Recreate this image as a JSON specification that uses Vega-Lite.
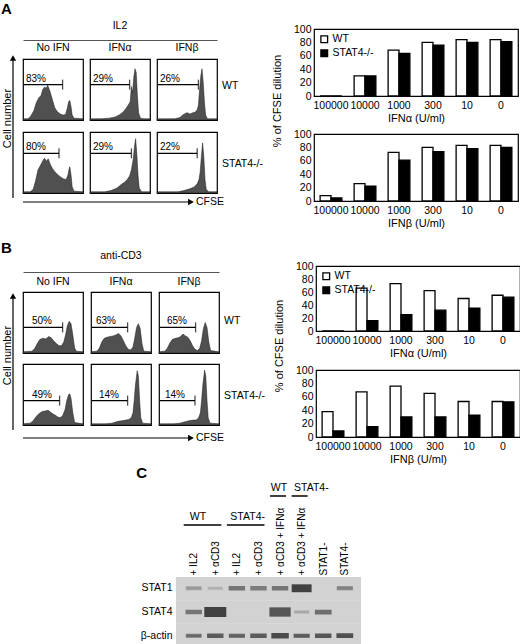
{
  "$schema": "https://vega.github.io/schema/vega-lite/v6.json",
  "padding": {"left": 1, "top": 2, "right": 0, "bottom": 0},
  "config": {
    "font": "Liberation Sans",
    "view": {"stroke": "black", "strokeWidth": 1.2},
    "axis": {"labelColor": "black", "titleColor": "black", "labelFontSize": 10.5, "titleFontSize": 11, "titleFontWeight": "normal"},
    "legend": {"labelColor": "black", "labelFontSize": 10.5},
    "title": {"color": "black"},
    "text": {"color": "black"}
  },
  "datasets": {
    "hist": [
      {"s": "IL2", "g": "WT", "t": "No IFN", "gate": 66, "gy": 58, "pct": "83%", "c": [0,8,12,18,22,26,30,33,36,39,41,44,47,50,53,57,62,67,71,74,76,78,80,82,85,100], "n": [2,2,5,15,28,36,40,50,54,52,57,50,40,30,20,14,10,8,9,20,30,32,22,8,3,2]},
      {"s": "IL2", "g": "WT", "t": "IFNα", "gate": 66, "gy": 58, "pct": "29%", "c": [0,20,32,42,50,56,60,64,67,69,71,73,75,77,79,81,84,90,100], "n": [2,2,3,5,9,14,19,25,30,55,45,70,84,78,40,12,3,2,2]},
      {"s": "IL2", "g": "WT", "t": "IFNβ", "gate": 69, "gy": 58, "pct": "26%", "c": [0,30,38,44,50,55,60,64,67,69,71,73,75,77,79,81,84,100], "n": [2,2,4,9,12,10,12,13,17,24,50,72,84,62,30,8,2,2]},
      {"s": "IL2", "g": "STAT4-/-", "t": "No IFN", "gate": 60, "gy": 65, "pct": "80%", "c": [0,12,17,21,25,29,33,36,39,42,45,49,53,58,63,68,72,75,77,78,80,82,85,100], "n": [2,2,6,20,38,45,53,57,52,56,48,40,35,30,26,23,22,30,40,43,30,10,3,2]},
      {"s": "IL2", "g": "STAT4-/-", "t": "IFNα", "gate": 69, "gy": 65, "pct": "29%", "c": [0,25,35,45,52,58,62,66,69,72,74,76,78,80,82,86,100], "n": [2,2,4,8,14,18,22,28,38,55,75,89,65,30,8,2,2]},
      {"s": "IL2", "g": "STAT4-/-", "t": "IFNβ", "gate": 67, "gy": 65, "pct": "22%", "c": [0,35,45,55,62,67,70,72,74,76,78,80,82,86,100], "n": [2,2,4,7,10,15,22,35,60,82,60,22,6,2,2]},
      {"s": "anti-CD3", "g": "WT", "t": "No IFN", "gate": 66, "gy": 42, "pct": "50%", "c": [0,15,20,24,28,33,38,43,47,51,56,60,64,68,71,74,77,80,83,86,89,100], "n": [2,3,8,16,22,24,23,27,25,20,15,12,12,18,30,45,52,48,30,8,3,2]},
      {"s": "anti-CD3", "g": "WT", "t": "IFNα", "gate": 61, "gy": 42, "pct": "63%", "c": [0,10,14,18,22,27,32,37,42,46,50,54,58,62,66,70,73,76,79,82,85,88,100], "n": [2,3,8,18,24,26,27,28,30,32,28,20,12,6,5,10,25,42,48,40,15,3,2]},
      {"s": "anti-CD3", "g": "WT", "t": "IFNβ", "gate": 61, "gy": 42, "pct": "65%", "c": [0,10,14,18,22,27,32,36,40,44,48,52,56,60,64,68,71,74,77,80,83,86,100], "n": [2,3,8,16,22,24,25,27,31,28,26,20,12,6,4,8,20,40,50,42,18,4,2]},
      {"s": "anti-CD3", "g": "STAT4-/-", "t": "No IFN", "gate": 61, "gy": 40, "pct": "49%", "c": [0,12,17,22,27,32,37,42,46,50,54,58,62,66,70,73,76,78,80,83,86,100], "n": [2,3,7,14,19,22,23,24,21,18,16,13,12,15,25,40,50,51,44,20,4,2]},
      {"s": "anti-CD3", "g": "STAT4-/-", "t": "IFNα", "gate": 61, "gy": 40, "pct": "14%", "c": [0,25,35,45,52,58,63,67,70,72,74,77,79,81,83,86,100], "n": [2,2,3,6,7,8,9,12,20,40,65,89,80,40,12,3,2]},
      {"s": "anti-CD3", "g": "STAT4-/-", "t": "IFNβ", "gate": 60, "gy": 40, "pct": "14%", "c": [0,25,35,42,50,57,62,66,69,71,73,76,78,80,82,85,100], "n": [2,2,3,5,7,8,8,12,20,40,65,90,80,40,12,3,2]}
    ],
    "bars": [
      {"s": "IL2", "f": "IFNα", "d": "100000", "g": "WT", "v": 0},
      {"s": "IL2", "f": "IFNα", "d": "100000", "g": "STAT4-/-", "v": 0},
      {"s": "IL2", "f": "IFNα", "d": "10000", "g": "WT", "v": 30},
      {"s": "IL2", "f": "IFNα", "d": "10000", "g": "STAT4-/-", "v": 30},
      {"s": "IL2", "f": "IFNα", "d": "1000", "g": "WT", "v": 68.5},
      {"s": "IL2", "f": "IFNα", "d": "1000", "g": "STAT4-/-", "v": 63.5},
      {"s": "IL2", "f": "IFNα", "d": "300", "g": "WT", "v": 80},
      {"s": "IL2", "f": "IFNα", "d": "300", "g": "STAT4-/-", "v": 76},
      {"s": "IL2", "f": "IFNα", "d": "10", "g": "WT", "v": 84},
      {"s": "IL2", "f": "IFNα", "d": "10", "g": "STAT4-/-", "v": 80},
      {"s": "IL2", "f": "IFNα", "d": "0", "g": "WT", "v": 84},
      {"s": "IL2", "f": "IFNα", "d": "0", "g": "STAT4-/-", "v": 81},
      {"s": "IL2", "f": "IFNβ", "d": "100000", "g": "WT", "v": 8},
      {"s": "IL2", "f": "IFNβ", "d": "100000", "g": "STAT4-/-", "v": 4.5},
      {"s": "IL2", "f": "IFNβ", "d": "10000", "g": "WT", "v": 26},
      {"s": "IL2", "f": "IFNβ", "d": "10000", "g": "STAT4-/-", "v": 22},
      {"s": "IL2", "f": "IFNβ", "d": "1000", "g": "WT", "v": 72.5},
      {"s": "IL2", "f": "IFNβ", "d": "1000", "g": "STAT4-/-", "v": 61},
      {"s": "IL2", "f": "IFNβ", "d": "300", "g": "WT", "v": 80},
      {"s": "IL2", "f": "IFNβ", "d": "300", "g": "STAT4-/-", "v": 73.5},
      {"s": "IL2", "f": "IFNβ", "d": "10", "g": "WT", "v": 83},
      {"s": "IL2", "f": "IFNβ", "d": "10", "g": "STAT4-/-", "v": 78},
      {"s": "IL2", "f": "IFNβ", "d": "0", "g": "WT", "v": 83},
      {"s": "IL2", "f": "IFNβ", "d": "0", "g": "STAT4-/-", "v": 80},
      {"s": "anti-CD3", "f": "IFNα", "d": "100000", "g": "WT", "v": 0},
      {"s": "anti-CD3", "f": "IFNα", "d": "100000", "g": "STAT4-/-", "v": 0},
      {"s": "anti-CD3", "f": "IFNα", "d": "10000", "g": "WT", "v": 66},
      {"s": "anti-CD3", "f": "IFNα", "d": "10000", "g": "STAT4-/-", "v": 16},
      {"s": "anti-CD3", "f": "IFNα", "d": "1000", "g": "WT", "v": 73},
      {"s": "anti-CD3", "f": "IFNα", "d": "1000", "g": "STAT4-/-", "v": 25},
      {"s": "anti-CD3", "f": "IFNα", "d": "300", "g": "WT", "v": 62},
      {"s": "anti-CD3", "f": "IFNα", "d": "300", "g": "STAT4-/-", "v": 32},
      {"s": "anti-CD3", "f": "IFNα", "d": "10", "g": "WT", "v": 50},
      {"s": "anti-CD3", "f": "IFNα", "d": "10", "g": "STAT4-/-", "v": 35},
      {"s": "anti-CD3", "f": "IFNα", "d": "0", "g": "WT", "v": 55},
      {"s": "anti-CD3", "f": "IFNα", "d": "0", "g": "STAT4-/-", "v": 52},
      {"s": "anti-CD3", "f": "IFNβ", "d": "100000", "g": "WT", "v": 38},
      {"s": "anti-CD3", "f": "IFNβ", "d": "100000", "g": "STAT4-/-", "v": 9},
      {"s": "anti-CD3", "f": "IFNβ", "d": "10000", "g": "WT", "v": 67.5},
      {"s": "anti-CD3", "f": "IFNβ", "d": "10000", "g": "STAT4-/-", "v": 15.5},
      {"s": "anti-CD3", "f": "IFNβ", "d": "1000", "g": "WT", "v": 76},
      {"s": "anti-CD3", "f": "IFNβ", "d": "1000", "g": "STAT4-/-", "v": 30},
      {"s": "anti-CD3", "f": "IFNβ", "d": "300", "g": "WT", "v": 65},
      {"s": "anti-CD3", "f": "IFNβ", "d": "300", "g": "STAT4-/-", "v": 30},
      {"s": "anti-CD3", "f": "IFNβ", "d": "10", "g": "WT", "v": 53},
      {"s": "anti-CD3", "f": "IFNβ", "d": "10", "g": "STAT4-/-", "v": 32.5},
      {"s": "anti-CD3", "f": "IFNβ", "d": "0", "g": "WT", "v": 53},
      {"s": "anti-CD3", "f": "IFNβ", "d": "0", "g": "STAT4-/-", "v": 52.5}
    ],
    "blot": [
      {"lane": 1, "row": "STAT1", "i": 0.35, "w": 0.1},
      {"lane": 2, "row": "STAT1", "i": 0.18, "w": 0},
      {"lane": 3, "row": "STAT1", "i": 0.6, "w": 0.2},
      {"lane": 4, "row": "STAT1", "i": 0.55, "w": 0.2},
      {"lane": 5, "row": "STAT1", "i": 0.6, "w": 0.2},
      {"lane": 6, "row": "STAT1", "i": 1, "w": 0.7},
      {"lane": 7, "row": "STAT1", "i": 0, "w": 0},
      {"lane": 8, "row": "STAT1", "i": 0.5, "w": 0.15},
      {"lane": 1, "row": "STAT4", "i": 0.6, "w": 0.2},
      {"lane": 2, "row": "STAT4", "i": 1, "w": 1},
      {"lane": 3, "row": "STAT4", "i": 0, "w": 0},
      {"lane": 4, "row": "STAT4", "i": 0, "w": 0},
      {"lane": 5, "row": "STAT4", "i": 0.85, "w": 0.9},
      {"lane": 6, "row": "STAT4", "i": 0.25, "w": 0},
      {"lane": 7, "row": "STAT4", "i": 0.65, "w": 0.25},
      {"lane": 8, "row": "STAT4", "i": 0, "w": 0},
      {"lane": 1, "row": "β-actin", "i": 0.7, "w": 0.1},
      {"lane": 2, "row": "β-actin", "i": 0.8, "w": 0.2},
      {"lane": 3, "row": "β-actin", "i": 0.75, "w": 0.15},
      {"lane": 4, "row": "β-actin", "i": 0.8, "w": 0.2},
      {"lane": 5, "row": "β-actin", "i": 0.95, "w": 0.35},
      {"lane": 6, "row": "β-actin", "i": 0.8, "w": 0.15},
      {"lane": 7, "row": "β-actin", "i": 0.85, "w": 0.2},
      {"lane": 8, "row": "β-actin", "i": 0.9, "w": 0.25}
    ],
    "groups": [
      {"label": "WT", "from": 1, "to": 2, "mid": 1.2, "tier": 1},
      {"label": "STAT4-", "from": 3, "to": 4, "mid": 3.5, "tier": 1},
      {"label": "WT", "from": 5, "to": 5, "mid": 4.95, "tier": 2},
      {"label": "STAT4-", "from": 6, "to": 6, "mid": 6.45, "tier": 2}
    ],
    "arrow": [{"from": 0, "to": 1, "label": "CFSE"}],
    "note": [{"t": "% of CFSE dilution"}]
  },
  "vconcat": [
    {
      "title": {"text": "A", "anchor": "start", "fontSize": 15, "fontWeight": "bold", "offset": -5},
      "hconcat": [
        {
          "hconcat": [
            {
              "width": 3, "height": 190, "view": {"stroke": null},
              "data": {"name": "arrow"},
              "layer": [
                {"mark": {"type": "rule", "color": "black", "strokeWidth": 1.2},
                 "encoding": {
                   "x": {"field": "from", "type": "quantitative", "scale": {"domain": [0, 1]}, "axis": null},
                   "y": {"field": "from", "type": "quantitative", "scale": {"domain": [-0.029, 1.329], "nice": false, "zero": false},
                         "axis": {"title": "Cell number", "labels": false, "ticks": false, "domain": false, "grid": false, "titlePadding": 1, "titleY": 106}},
                   "y2": {"field": "to"}}},
                {"mark": {"type": "point", "shape": "triangle-up", "filled": true, "color": "black", "size": 40, "opacity": 1},
                 "encoding": {"x": {"field": "from", "type": "quantitative"}, "y": {"field": "to", "type": "quantitative"}}}
              ]
            },
            {
              "vconcat": [
                {
                  "width": 194, "height": 28, "view": {"stroke": null},
                  "data": {"values": [{"label": "IL2"}]},
                  "mark": {"type": "text", "fontSize": 10.5},
                  "encoding": {
                    "x": {"field": "label", "type": "nominal", "scale": {"paddingInner": 0, "paddingOuter": 0},
                          "axis": {"title": null, "labels": false, "ticks": false, "domain": true, "domainColor": "#555", "domainWidth": 1}},
                    "text": {"field": "label", "type": "nominal"}}
                },
                {
                  "vconcat": [
                    {
                      "hconcat": [
                        {
                          "width": 60, "height": 61, "data": {"name": "hist"},
                          "transform": [{"filter": "datum.s === 'IL2' && datum.g === 'WT' && datum.t === 'No IFN'"}],
                          "title": {"text": "No IFN", "anchor": "middle", "fontSize": 10.5, "fontWeight": "normal", "offset": 6},
                          "layer": [
                            {"transform": [{"flatten": ["c", "n"]}], "mark": {"type": "area", "fill": "#505050", "stroke": "#1a1a1a", "strokeWidth": 0.5},
                             "encoding": {"x": {"field": "c", "type": "quantitative", "scale": {"domain": [0, 100], "nice": false}, "axis": null}, "y": {"field": "n", "type": "quantitative", "scale": {"domain": [0, 100], "nice": false}, "axis": null}}},
                            {"mark": {"type": "rule", "color": "black", "strokeWidth": 1.3}, "encoding": {"x": {"field": "gate", "type": "quantitative"}, "x2": {"datum": 1}, "y": {"field": "gy", "type": "quantitative"}}},
                            {"mark": {"type": "tick", "orient": "vertical", "color": "black", "thickness": 1.3, "size": 10}, "encoding": {"x": {"field": "gate", "type": "quantitative"}, "y": {"field": "gy", "type": "quantitative"}}},
                            {"mark": {"type": "text", "align": "left", "baseline": "bottom", "dy": -1, "dx": 3, "fontSize": 10}, "encoding": {"x": {"datum": 0, "type": "quantitative"}, "y": {"field": "gy", "type": "quantitative"}, "text": {"field": "pct", "type": "nominal"}}}
                          ]
                        },
                        {
                          "width": 60, "height": 61, "data": {"name": "hist"},
                          "transform": [{"filter": "datum.s === 'IL2' && datum.g === 'WT' && datum.t === 'IFNα'"}],
                          "title": {"text": "IFNα", "anchor": "middle", "fontSize": 10.5, "fontWeight": "normal", "offset": 6},
                          "layer": [
                            {"transform": [{"flatten": ["c", "n"]}], "mark": {"type": "area", "fill": "#505050", "stroke": "#1a1a1a", "strokeWidth": 0.5},
                             "encoding": {"x": {"field": "c", "type": "quantitative", "scale": {"domain": [0, 100], "nice": false}, "axis": null}, "y": {"field": "n", "type": "quantitative", "scale": {"domain": [0, 100], "nice": false}, "axis": null}}},
                            {"mark": {"type": "rule", "color": "black", "strokeWidth": 1.3}, "encoding": {"x": {"field": "gate", "type": "quantitative"}, "x2": {"datum": 1}, "y": {"field": "gy", "type": "quantitative"}}},
                            {"mark": {"type": "tick", "orient": "vertical", "color": "black", "thickness": 1.3, "size": 10}, "encoding": {"x": {"field": "gate", "type": "quantitative"}, "y": {"field": "gy", "type": "quantitative"}}},
                            {"mark": {"type": "text", "align": "left", "baseline": "bottom", "dy": -1, "dx": 3, "fontSize": 10}, "encoding": {"x": {"datum": 0, "type": "quantitative"}, "y": {"field": "gy", "type": "quantitative"}, "text": {"field": "pct", "type": "nominal"}}}
                          ]
                        },
                        {
                          "width": 60, "height": 61, "data": {"name": "hist"},
                          "transform": [{"filter": "datum.s === 'IL2' && datum.g === 'WT' && datum.t === 'IFNβ'"}],
                          "title": {"text": "IFNβ", "anchor": "middle", "fontSize": 10.5, "fontWeight": "normal", "offset": 6},
                          "layer": [
                            {"transform": [{"flatten": ["c", "n"]}], "mark": {"type": "area", "fill": "#505050", "stroke": "#1a1a1a", "strokeWidth": 0.5},
                             "encoding": {"x": {"field": "c", "type": "quantitative", "scale": {"domain": [0, 100], "nice": false}, "axis": null}, "y": {"field": "n", "type": "quantitative", "scale": {"domain": [0, 100], "nice": false}, "axis": null}}},
                            {"mark": {"type": "rule", "color": "black", "strokeWidth": 1.3}, "encoding": {"x": {"field": "gate", "type": "quantitative"}, "x2": {"datum": 1}, "y": {"field": "gy", "type": "quantitative"}}},
                            {"mark": {"type": "tick", "orient": "vertical", "color": "black", "thickness": 1.3, "size": 10}, "encoding": {"x": {"field": "gate", "type": "quantitative"}, "y": {"field": "gy", "type": "quantitative"}}},
                            {"mark": {"type": "text", "align": "left", "baseline": "bottom", "dy": -1, "dx": 3, "fontSize": 10}, "encoding": {"x": {"datum": 0, "type": "quantitative"}, "y": {"field": "gy", "type": "quantitative"}, "text": {"field": "pct", "type": "nominal"}}},
                            {"mark": {"type": "text", "align": "left", "baseline": "middle", "dx": 5, "fontSize": 10.5}, "encoding": {"x": {"datum": 100, "type": "quantitative"}, "y": {"datum": 55, "type": "quantitative"}, "text": {"field": "g", "type": "nominal"}}}
                          ]
                        }
                      ],
                      "spacing": 3
                    },
                    {
                      "hconcat": [
                        {
                          "width": 60, "height": 61, "data": {"name": "hist"},
                          "transform": [{"filter": "datum.s === 'IL2' && datum.g === 'STAT4-/-' && datum.t === 'No IFN'"}],
                          "layer": [
                            {"transform": [{"flatten": ["c", "n"]}], "mark": {"type": "area", "fill": "#505050", "stroke": "#1a1a1a", "strokeWidth": 0.5},
                             "encoding": {"x": {"field": "c", "type": "quantitative", "scale": {"domain": [0, 100], "nice": false}, "axis": null}, "y": {"field": "n", "type": "quantitative", "scale": {"domain": [0, 100], "nice": false}, "axis": null}}},
                            {"mark": {"type": "rule", "color": "black", "strokeWidth": 1.3}, "encoding": {"x": {"field": "gate", "type": "quantitative"}, "x2": {"datum": 1}, "y": {"field": "gy", "type": "quantitative"}}},
                            {"mark": {"type": "tick", "orient": "vertical", "color": "black", "thickness": 1.3, "size": 10}, "encoding": {"x": {"field": "gate", "type": "quantitative"}, "y": {"field": "gy", "type": "quantitative"}}},
                            {"mark": {"type": "text", "align": "left", "baseline": "bottom", "dy": -1, "dx": 3, "fontSize": 10}, "encoding": {"x": {"datum": 0, "type": "quantitative"}, "y": {"field": "gy", "type": "quantitative"}, "text": {"field": "pct", "type": "nominal"}}}
                          ]
                        },
                        {
                          "width": 60, "height": 61, "data": {"name": "hist"},
                          "transform": [{"filter": "datum.s === 'IL2' && datum.g === 'STAT4-/-' && datum.t === 'IFNα'"}],
                          "layer": [
                            {"transform": [{"flatten": ["c", "n"]}], "mark": {"type": "area", "fill": "#505050", "stroke": "#1a1a1a", "strokeWidth": 0.5},
                             "encoding": {"x": {"field": "c", "type": "quantitative", "scale": {"domain": [0, 100], "nice": false}, "axis": null}, "y": {"field": "n", "type": "quantitative", "scale": {"domain": [0, 100], "nice": false}, "axis": null}}},
                            {"mark": {"type": "rule", "color": "black", "strokeWidth": 1.3}, "encoding": {"x": {"field": "gate", "type": "quantitative"}, "x2": {"datum": 1}, "y": {"field": "gy", "type": "quantitative"}}},
                            {"mark": {"type": "tick", "orient": "vertical", "color": "black", "thickness": 1.3, "size": 10}, "encoding": {"x": {"field": "gate", "type": "quantitative"}, "y": {"field": "gy", "type": "quantitative"}}},
                            {"mark": {"type": "text", "align": "left", "baseline": "bottom", "dy": -1, "dx": 3, "fontSize": 10}, "encoding": {"x": {"datum": 0, "type": "quantitative"}, "y": {"field": "gy", "type": "quantitative"}, "text": {"field": "pct", "type": "nominal"}}}
                          ]
                        },
                        {
                          "width": 60, "height": 61, "data": {"name": "hist"},
                          "transform": [{"filter": "datum.s === 'IL2' && datum.g === 'STAT4-/-' && datum.t === 'IFNβ'"}],
                          "layer": [
                            {"transform": [{"flatten": ["c", "n"]}], "mark": {"type": "area", "fill": "#505050", "stroke": "#1a1a1a", "strokeWidth": 0.5},
                             "encoding": {"x": {"field": "c", "type": "quantitative", "scale": {"domain": [0, 100], "nice": false}, "axis": null}, "y": {"field": "n", "type": "quantitative", "scale": {"domain": [0, 100], "nice": false}, "axis": null}}},
                            {"mark": {"type": "rule", "color": "black", "strokeWidth": 1.3}, "encoding": {"x": {"field": "gate", "type": "quantitative"}, "x2": {"datum": 1}, "y": {"field": "gy", "type": "quantitative"}}},
                            {"mark": {"type": "tick", "orient": "vertical", "color": "black", "thickness": 1.3, "size": 10}, "encoding": {"x": {"field": "gate", "type": "quantitative"}, "y": {"field": "gy", "type": "quantitative"}}},
                            {"mark": {"type": "text", "align": "left", "baseline": "bottom", "dy": -1, "dx": 3, "fontSize": 10}, "encoding": {"x": {"datum": 0, "type": "quantitative"}, "y": {"field": "gy", "type": "quantitative"}, "text": {"field": "pct", "type": "nominal"}}},
                            {"mark": {"type": "text", "align": "left", "baseline": "middle", "dx": 5, "fontSize": 10.5}, "encoding": {"x": {"datum": 100, "type": "quantitative"}, "y": {"datum": 48, "type": "quantitative"}, "text": {"field": "g", "type": "nominal"}}}
                          ]
                        }
                      ],
                      "spacing": 3
                    }
                  ],
                  "spacing": 9
                },
                {
                  "width": 194, "height": 12, "view": {"stroke": null},
                  "data": {"name": "arrow"},
                  "layer": [
                    {"mark": {"type": "rule", "color": "black", "strokeWidth": 1.2},
                     "encoding": {
                       "x": {"field": "from", "type": "quantitative", "scale": {"domain": [0, 1.155], "nice": false, "zero": false}, "axis": null},
                       "x2": {"field": "to"}}},
                    {"mark": {"type": "point", "shape": "triangle-right", "filled": true, "color": "black", "size": 45, "opacity": 1},
                     "encoding": {"x": {"field": "to", "type": "quantitative"}}},
                    {"mark": {"type": "text", "align": "left", "baseline": "middle", "dx": 5, "fontSize": 10.5},
                     "encoding": {"x": {"field": "to", "type": "quantitative"}, "text": {"field": "label", "type": "nominal"}}}
                  ]
                }
              ],
              "spacing": 1
            }
          ],
          "spacing": 4
        },
        {
          "hconcat": [
            {
              "width": 28, "height": 178, "view": {"stroke": null},
              "data": {"name": "note"},
              "mark": {"type": "text", "angle": 270, "fontSize": 11},
              "encoding": {"text": {"field": "t", "type": "nominal"}}
            },
            {
              "vconcat": [
                {"width": 10, "height": 8, "view": {"stroke": null}, "data": {"name": "note"}, "mark": {"type": "point", "opacity": 0}},
                {
                  "width": 204, "height": 67,
                  "data": {"name": "bars"},
                  "transform": [{"filter": "datum.s === 'IL2' && datum.f === 'IFNα'"}],
                  "mark": {"type": "bar", "stroke": "black", "strokeWidth": 1.3},
                  "encoding": {
                    "x": {"field": "d", "type": "nominal", "sort": ["100000", "10000", "1000", "300", "10", "0"], "scale": {"paddingInner": 0.36, "paddingOuter": 0.18},
                          "axis": {"title": "IFNα (U/ml)", "labelAngle": 0, "ticks": false, "domain": false, "labelPadding": 4, "titlePadding": 2}},
                    "xOffset": {"field": "g", "type": "nominal", "sort": ["WT", "STAT4-/-"]},
                    "y": {"field": "v", "type": "quantitative", "scale": {"domain": [0, 100], "nice": false},
                          "axis": {"title": null, "values": [0, 20, 40, 60, 80, 100], "ticks": false, "domain": false, "grid": false, "labelPadding": 3, "minExtent": 0}},
                    "fill": {"field": "g", "type": "nominal", "scale": {"domain": ["WT", "STAT4-/-"], "range": ["white", "black"]},
                             "legend": {"title": null, "orient": "top-left", "offset": 5, "padding": 0, "symbolType": "square", "symbolSize": 45, "symbolStrokeColor": "black", "symbolStrokeWidth": 1.3, "labelOffset": 3, "rowPadding": 1}}
                  }
                },
                {
                  "width": 204, "height": 67,
                  "data": {"name": "bars"},
                  "transform": [{"filter": "datum.s === 'IL2' && datum.f === 'IFNβ'"}],
                  "mark": {"type": "bar", "stroke": "black", "strokeWidth": 1.3},
                  "encoding": {
                    "x": {"field": "d", "type": "nominal", "sort": ["100000", "10000", "1000", "300", "10", "0"], "scale": {"paddingInner": 0.36, "paddingOuter": 0.18},
                          "axis": {"title": "IFNβ (U/ml)", "labelAngle": 0, "ticks": false, "domain": false, "labelPadding": 4, "titlePadding": 2}},
                    "xOffset": {"field": "g", "type": "nominal", "sort": ["WT", "STAT4-/-"]},
                    "y": {"field": "v", "type": "quantitative", "scale": {"domain": [0, 100], "nice": false},
                          "axis": {"title": null, "values": [0, 20, 40, 60, 80, 100], "ticks": false, "domain": false, "grid": false, "labelPadding": 3, "minExtent": 0}},
                    "fill": {"field": "g", "type": "nominal", "scale": {"domain": ["WT", "STAT4-/-"], "range": ["white", "black"]}, "legend": null}
                  }
                }
              ],
              "spacing": 3,
              "resolve": {"scale": {"fill": "independent"}, "legend": {"fill": "independent"}}
            }
          ],
          "spacing": 0,
          "resolve": {"scale": {"fill": "independent"}, "legend": {"fill": "independent"}}
        }
      ],
      "spacing": 0,
      "resolve": {"scale": {"fill": "independent"}, "legend": {"fill": "independent"}}
    },
    {
      "title": {"text": "B", "anchor": "start", "fontSize": 15, "fontWeight": "bold", "offset": -26},
      "hconcat": [
        {
          "hconcat": [
            {
              "width": 3, "height": 205, "view": {"stroke": null},
              "data": {"name": "arrow"},
              "layer": [
                {"mark": {"type": "rule", "color": "black", "strokeWidth": 1.2},
                 "encoding": {
                   "x": {"field": "from", "type": "quantitative", "scale": {"domain": [0, 1]}, "axis": null},
                   "y": {"field": "from", "type": "quantitative", "scale": {"domain": [-0.037, 1.493], "nice": false, "zero": false},
                         "axis": {"title": "Cell number", "labels": false, "ticks": false, "domain": false, "grid": false, "titlePadding": 1, "titleY": 125}},
                   "y2": {"field": "to"}}},
                {"mark": {"type": "point", "shape": "triangle-up", "filled": true, "color": "black", "size": 40, "opacity": 1},
                 "encoding": {"x": {"field": "from", "type": "quantitative"}, "y": {"field": "to", "type": "quantitative"}}}
              ]
            },
            {
              "vconcat": [
                {
                  "width": 196, "height": 42, "view": {"stroke": null},
                  "data": {"values": [{"label": "anti-CD3"}]},
                  "mark": {"type": "text", "fontSize": 10.5, "dy": 5},
                  "encoding": {
                    "x": {"field": "label", "type": "nominal", "scale": {"paddingInner": 0, "paddingOuter": 0},
                          "axis": {"title": null, "labels": false, "ticks": false, "domain": true, "domainColor": "#555", "domainWidth": 1}},
                    "text": {"field": "label", "type": "nominal"}}
                },
                {
                  "vconcat": [
                    {
                      "hconcat": [
                        {
                          "width": 60, "height": 61, "data": {"name": "hist"},
                          "transform": [{"filter": "datum.s === 'anti-CD3' && datum.g === 'WT' && datum.t === 'No IFN'"}],
                          "title": {"text": "No IFN", "anchor": "middle", "fontSize": 10.5, "fontWeight": "normal", "offset": 5},
                          "layer": [
                            {"transform": [{"flatten": ["c", "n"]}], "mark": {"type": "area", "fill": "#505050", "stroke": "#1a1a1a", "strokeWidth": 0.5},
                             "encoding": {"x": {"field": "c", "type": "quantitative", "scale": {"domain": [0, 100], "nice": false}, "axis": null}, "y": {"field": "n", "type": "quantitative", "scale": {"domain": [0, 100], "nice": false}, "axis": null}}},
                            {"mark": {"type": "rule", "color": "black", "strokeWidth": 1.3}, "encoding": {"x": {"field": "gate", "type": "quantitative"}, "x2": {"datum": 1}, "y": {"field": "gy", "type": "quantitative"}}},
                            {"mark": {"type": "tick", "orient": "vertical", "color": "black", "thickness": 1.3, "size": 10}, "encoding": {"x": {"field": "gate", "type": "quantitative"}, "y": {"field": "gy", "type": "quantitative"}}},
                            {"mark": {"type": "text", "align": "left", "baseline": "bottom", "dy": -1, "dx": 9, "fontSize": 10}, "encoding": {"x": {"datum": 0, "type": "quantitative"}, "y": {"field": "gy", "type": "quantitative"}, "text": {"field": "pct", "type": "nominal"}}}
                          ]
                        },
                        {
                          "width": 60, "height": 61, "data": {"name": "hist"},
                          "transform": [{"filter": "datum.s === 'anti-CD3' && datum.g === 'WT' && datum.t === 'IFNα'"}],
                          "title": {"text": "IFNα", "anchor": "middle", "fontSize": 10.5, "fontWeight": "normal", "offset": 5},
                          "layer": [
                            {"transform": [{"flatten": ["c", "n"]}], "mark": {"type": "area", "fill": "#505050", "stroke": "#1a1a1a", "strokeWidth": 0.5},
                             "encoding": {"x": {"field": "c", "type": "quantitative", "scale": {"domain": [0, 100], "nice": false}, "axis": null}, "y": {"field": "n", "type": "quantitative", "scale": {"domain": [0, 100], "nice": false}, "axis": null}}},
                            {"mark": {"type": "rule", "color": "black", "strokeWidth": 1.3}, "encoding": {"x": {"field": "gate", "type": "quantitative"}, "x2": {"datum": 1}, "y": {"field": "gy", "type": "quantitative"}}},
                            {"mark": {"type": "tick", "orient": "vertical", "color": "black", "thickness": 1.3, "size": 10}, "encoding": {"x": {"field": "gate", "type": "quantitative"}, "y": {"field": "gy", "type": "quantitative"}}},
                            {"mark": {"type": "text", "align": "left", "baseline": "bottom", "dy": -1, "dx": 5, "fontSize": 10}, "encoding": {"x": {"datum": 0, "type": "quantitative"}, "y": {"field": "gy", "type": "quantitative"}, "text": {"field": "pct", "type": "nominal"}}}
                          ]
                        },
                        {
                          "width": 60, "height": 61, "data": {"name": "hist"},
                          "transform": [{"filter": "datum.s === 'anti-CD3' && datum.g === 'WT' && datum.t === 'IFNβ'"}],
                          "title": {"text": "IFNβ", "anchor": "middle", "fontSize": 10.5, "fontWeight": "normal", "offset": 5},
                          "layer": [
                            {"transform": [{"flatten": ["c", "n"]}], "mark": {"type": "area", "fill": "#505050", "stroke": "#1a1a1a", "strokeWidth": 0.5},
                             "encoding": {"x": {"field": "c", "type": "quantitative", "scale": {"domain": [0, 100], "nice": false}, "axis": null}, "y": {"field": "n", "type": "quantitative", "scale": {"domain": [0, 100], "nice": false}, "axis": null}}},
                            {"mark": {"type": "rule", "color": "black", "strokeWidth": 1.3}, "encoding": {"x": {"field": "gate", "type": "quantitative"}, "x2": {"datum": 1}, "y": {"field": "gy", "type": "quantitative"}}},
                            {"mark": {"type": "tick", "orient": "vertical", "color": "black", "thickness": 1.3, "size": 10}, "encoding": {"x": {"field": "gate", "type": "quantitative"}, "y": {"field": "gy", "type": "quantitative"}}},
                            {"mark": {"type": "text", "align": "left", "baseline": "bottom", "dy": -1, "dx": 8, "fontSize": 10}, "encoding": {"x": {"datum": 0, "type": "quantitative"}, "y": {"field": "gy", "type": "quantitative"}, "text": {"field": "pct", "type": "nominal"}}},
                            {"mark": {"type": "text", "align": "left", "baseline": "middle", "dx": 5, "fontSize": 10.5}, "encoding": {"x": {"datum": 100, "type": "quantitative"}, "y": {"datum": 52, "type": "quantitative"}, "text": {"field": "g", "type": "nominal"}}}
                          ]
                        }
                      ],
                      "spacing": 4
                    },
                    {
                      "hconcat": [
                        {
                          "width": 60, "height": 61, "data": {"name": "hist"},
                          "transform": [{"filter": "datum.s === 'anti-CD3' && datum.g === 'STAT4-/-' && datum.t === 'No IFN'"}],
                          "layer": [
                            {"transform": [{"flatten": ["c", "n"]}], "mark": {"type": "area", "fill": "#505050", "stroke": "#1a1a1a", "strokeWidth": 0.5},
                             "encoding": {"x": {"field": "c", "type": "quantitative", "scale": {"domain": [0, 100], "nice": false}, "axis": null}, "y": {"field": "n", "type": "quantitative", "scale": {"domain": [0, 100], "nice": false}, "axis": null}}},
                            {"mark": {"type": "rule", "color": "black", "strokeWidth": 1.3}, "encoding": {"x": {"field": "gate", "type": "quantitative"}, "x2": {"datum": 1}, "y": {"field": "gy", "type": "quantitative"}}},
                            {"mark": {"type": "tick", "orient": "vertical", "color": "black", "thickness": 1.3, "size": 10}, "encoding": {"x": {"field": "gate", "type": "quantitative"}, "y": {"field": "gy", "type": "quantitative"}}},
                            {"mark": {"type": "text", "align": "left", "baseline": "bottom", "dy": -1, "dx": 9, "fontSize": 10}, "encoding": {"x": {"datum": 0, "type": "quantitative"}, "y": {"field": "gy", "type": "quantitative"}, "text": {"field": "pct", "type": "nominal"}}}
                          ]
                        },
                        {
                          "width": 60, "height": 61, "data": {"name": "hist"},
                          "transform": [{"filter": "datum.s === 'anti-CD3' && datum.g === 'STAT4-/-' && datum.t === 'IFNα'"}],
                          "layer": [
                            {"transform": [{"flatten": ["c", "n"]}], "mark": {"type": "area", "fill": "#505050", "stroke": "#1a1a1a", "strokeWidth": 0.5},
                             "encoding": {"x": {"field": "c", "type": "quantitative", "scale": {"domain": [0, 100], "nice": false}, "axis": null}, "y": {"field": "n", "type": "quantitative", "scale": {"domain": [0, 100], "nice": false}, "axis": null}}},
                            {"mark": {"type": "rule", "color": "black", "strokeWidth": 1.3}, "encoding": {"x": {"field": "gate", "type": "quantitative"}, "x2": {"datum": 1}, "y": {"field": "gy", "type": "quantitative"}}},
                            {"mark": {"type": "tick", "orient": "vertical", "color": "black", "thickness": 1.3, "size": 10}, "encoding": {"x": {"field": "gate", "type": "quantitative"}, "y": {"field": "gy", "type": "quantitative"}}},
                            {"mark": {"type": "text", "align": "left", "baseline": "bottom", "dy": -1, "dx": 8, "fontSize": 10}, "encoding": {"x": {"datum": 0, "type": "quantitative"}, "y": {"field": "gy", "type": "quantitative"}, "text": {"field": "pct", "type": "nominal"}}}
                          ]
                        },
                        {
                          "width": 60, "height": 61, "data": {"name": "hist"},
                          "transform": [{"filter": "datum.s === 'anti-CD3' && datum.g === 'STAT4-/-' && datum.t === 'IFNβ'"}],
                          "layer": [
                            {"transform": [{"flatten": ["c", "n"]}], "mark": {"type": "area", "fill": "#505050", "stroke": "#1a1a1a", "strokeWidth": 0.5},
                             "encoding": {"x": {"field": "c", "type": "quantitative", "scale": {"domain": [0, 100], "nice": false}, "axis": null}, "y": {"field": "n", "type": "quantitative", "scale": {"domain": [0, 100], "nice": false}, "axis": null}}},
                            {"mark": {"type": "rule", "color": "black", "strokeWidth": 1.3}, "encoding": {"x": {"field": "gate", "type": "quantitative"}, "x2": {"datum": 1}, "y": {"field": "gy", "type": "quantitative"}}},
                            {"mark": {"type": "tick", "orient": "vertical", "color": "black", "thickness": 1.3, "size": 10}, "encoding": {"x": {"field": "gate", "type": "quantitative"}, "y": {"field": "gy", "type": "quantitative"}}},
                            {"mark": {"type": "text", "align": "left", "baseline": "bottom", "dy": -1, "dx": 6, "fontSize": 10}, "encoding": {"x": {"datum": 0, "type": "quantitative"}, "y": {"field": "gy", "type": "quantitative"}, "text": {"field": "pct", "type": "nominal"}}},
                            {"mark": {"type": "text", "align": "left", "baseline": "middle", "dx": 5, "fontSize": 10.5}, "encoding": {"x": {"datum": 100, "type": "quantitative"}, "y": {"datum": 48, "type": "quantitative"}, "text": {"field": "g", "type": "nominal"}}}
                          ]
                        }
                      ],
                      "spacing": 4
                    }
                  ],
                  "spacing": 8
                },
                {
                  "width": 196, "height": 16, "view": {"stroke": null},
                  "data": {"name": "arrow"},
                  "layer": [
                    {"mark": {"type": "rule", "color": "black", "strokeWidth": 1.2},
                     "encoding": {
                       "x": {"field": "from", "type": "quantitative", "scale": {"domain": [0, 1.167], "nice": false, "zero": false}, "axis": null},
                       "x2": {"field": "to"}}},
                    {"mark": {"type": "point", "shape": "triangle-right", "filled": true, "color": "black", "size": 45, "opacity": 1},
                     "encoding": {"x": {"field": "to", "type": "quantitative"}}},
                    {"mark": {"type": "text", "align": "left", "baseline": "middle", "dx": 5, "fontSize": 10.5},
                     "encoding": {"x": {"field": "to", "type": "quantitative"}, "text": {"field": "label", "type": "nominal"}}}
                  ]
                }
              ],
              "spacing": 3
            }
          ],
          "spacing": 4
        },
        {
          "hconcat": [
            {
              "width": 28, "height": 232, "view": {"stroke": null},
              "data": {"name": "note"},
              "mark": {"type": "text", "angle": 270, "fontSize": 11},
              "encoding": {"text": {"field": "t", "type": "nominal"}}
            },
            {
              "vconcat": [
                {"width": 10, "height": 26, "view": {"stroke": null}, "data": {"name": "note"}, "mark": {"type": "point", "opacity": 0}},
                {
                  "width": 204, "height": 65,
                  "data": {"name": "bars"},
                  "transform": [{"filter": "datum.s === 'anti-CD3' && datum.f === 'IFNα'"}],
                  "mark": {"type": "bar", "stroke": "black", "strokeWidth": 1.3},
                  "encoding": {
                    "x": {"field": "d", "type": "nominal", "sort": ["100000", "10000", "1000", "300", "10", "0"], "scale": {"paddingInner": 0.36, "paddingOuter": 0.18},
                          "axis": {"title": "IFNα (U/ml)", "labelAngle": 0, "ticks": false, "domain": false, "labelPadding": 4, "titlePadding": 2}},
                    "xOffset": {"field": "g", "type": "nominal", "sort": ["WT", "STAT4-/-"]},
                    "y": {"field": "v", "type": "quantitative", "scale": {"domain": [0, 100], "nice": false},
                          "axis": {"title": null, "values": [0, 20, 40, 60, 80, 100], "ticks": false, "domain": false, "grid": false, "labelPadding": 3, "minExtent": 0}},
                    "fill": {"field": "g", "type": "nominal", "scale": {"domain": ["WT", "STAT4-/-"], "range": ["white", "black"]},
                             "legend": {"title": null, "orient": "top-left", "offset": 5, "padding": 0, "symbolType": "square", "symbolSize": 45, "symbolStrokeColor": "black", "symbolStrokeWidth": 1.3, "labelOffset": 3, "rowPadding": 1}}
                  }
                },
                {
                  "width": 204, "height": 67,
                  "data": {"name": "bars"},
                  "transform": [{"filter": "datum.s === 'anti-CD3' && datum.f === 'IFNβ'"}],
                  "mark": {"type": "bar", "stroke": "black", "strokeWidth": 1.3},
                  "encoding": {
                    "x": {"field": "d", "type": "nominal", "sort": ["100000", "10000", "1000", "300", "10", "0"], "scale": {"paddingInner": 0.36, "paddingOuter": 0.18},
                          "axis": {"title": "IFNβ (U/ml)", "labelAngle": 0, "ticks": false, "domain": false, "labelPadding": 4, "titlePadding": 2}},
                    "xOffset": {"field": "g", "type": "nominal", "sort": ["WT", "STAT4-/-"]},
                    "y": {"field": "v", "type": "quantitative", "scale": {"domain": [0, 100], "nice": false},
                          "axis": {"title": null, "values": [0, 20, 40, 60, 80, 100], "ticks": false, "domain": false, "grid": false, "labelPadding": 3, "minExtent": 0}},
                    "fill": {"field": "g", "type": "nominal", "scale": {"domain": ["WT", "STAT4-/-"], "range": ["white", "black"]}, "legend": null}
                  }
                }
              ],
              "spacing": 4,
              "resolve": {"scale": {"fill": "independent"}, "legend": {"fill": "independent"}}
            }
          ],
          "spacing": 0,
          "resolve": {"scale": {"fill": "independent"}, "legend": {"fill": "independent"}}
        }
      ],
      "spacing": -2,
      "resolve": {"scale": {"fill": "independent"}, "legend": {"fill": "independent"}}
    },
    {
      "hconcat": [
        {"width": 113, "height": 10, "view": {"stroke": null}, "data": {"name": "note"}, "mark": {"type": "point", "opacity": 0}},
        {
          "title": {"text": "C", "anchor": "start", "fontSize": 15, "fontWeight": "bold", "offset": 0, "dx": -4},
          "vconcat": [
            {
              "width": 185, "height": 46, "view": {"stroke": null},
              "data": {"name": "groups"},
              "layer": [
                {"mark": {"type": "rule", "color": "black", "strokeWidth": 1.5, "xOffset": -10, "x2Offset": 6},
                 "encoding": {
                   "x": {"field": "from", "type": "quantitative", "scale": {"domain": [0.18, 8.75], "nice": false, "zero": false}, "axis": null},
                   "x2": {"field": "to"},
                   "y": {"field": "tier", "type": "quantitative", "scale": {"domain": [0.931, 2.517], "nice": false, "zero": false}, "axis": null}}},
                {"mark": {"type": "text", "baseline": "bottom", "dy": -3, "fontSize": 10.5},
                 "encoding": {
                   "x": {"field": "mid", "type": "quantitative", "scale": {"domain": [0.18, 8.75], "nice": false, "zero": false}},
                   "y": {"field": "tier", "type": "quantitative", "scale": {"domain": [0.931, 2.517], "nice": false, "zero": false}},
                   "text": {"field": "label", "type": "nominal"}}}
              ]
            },
            {
              "width": 185, "height": 70, "view": {"stroke": null},
              "data": {"name": "blot"},
              "layer": [
                {"mark": {"type": "rect", "color": "#d2d2d2"},
                 "encoding": {
                   "y": {"field": "row", "type": "nominal", "sort": ["STAT1", "STAT4", "β-actin"], "scale": {"paddingInner": 0.05, "paddingOuter": 0},
                         "axis": {"title": null, "ticks": false, "domain": false, "labelPadding": 4}}}},
                {"transform": [{"filter": "datum.i > 0"}],
                 "mark": {"type": "tick", "orient": "horizontal", "thickness": 3, "size": 15},
                 "encoding": {
                   "x": {"field": "lane", "type": "quantitative", "scale": {"domain": [0.18, 8.75], "nice": false, "zero": false},
                         "axis": {"orient": "top", "title": null, "values": [1, 2, 3, 4, 5, 6, 7, 8], "labelExpr": "['+ IL2', '+ αCD3', '+ IL2', '+ αCD3', '+ αCD3 + IFNα', '+ αCD3 + IFNα', 'STAT1-', 'STAT4-'][datum.value - 1]", "labelAngle": 270, "labelAlign": "left", "labelBaseline": "middle", "labelFontSize": 10, "labelPadding": 2, "labelFlush": false, "labelOverlap": false, "labelBound": false, "ticks": false, "domain": false, "grid": false}},
                   "y": {"field": "row", "type": "nominal", "sort": ["STAT1", "STAT4", "β-actin"]},
                   "color": {"field": "i", "type": "quantitative", "scale": {"domain": [0, 1], "range": ["#cccccc", "#050505"]}, "legend": null},
                   "stroke": {"field": "i", "type": "quantitative", "scale": {"domain": [0, 1], "range": ["#cccccc", "#050505"]}, "legend": null},
                   "strokeWidth": {"field": "w", "type": "quantitative", "scale": {"domain": [0, 1], "range": [0, 7]}, "legend": null}}}
              ]
            }
          ],
          "spacing": -20
        }
      ],
      "spacing": 10
    }
  ],
  "spacing": 0,
  "resolve": {"scale": {"fill": "independent"}, "legend": {"fill": "independent"}}
}
